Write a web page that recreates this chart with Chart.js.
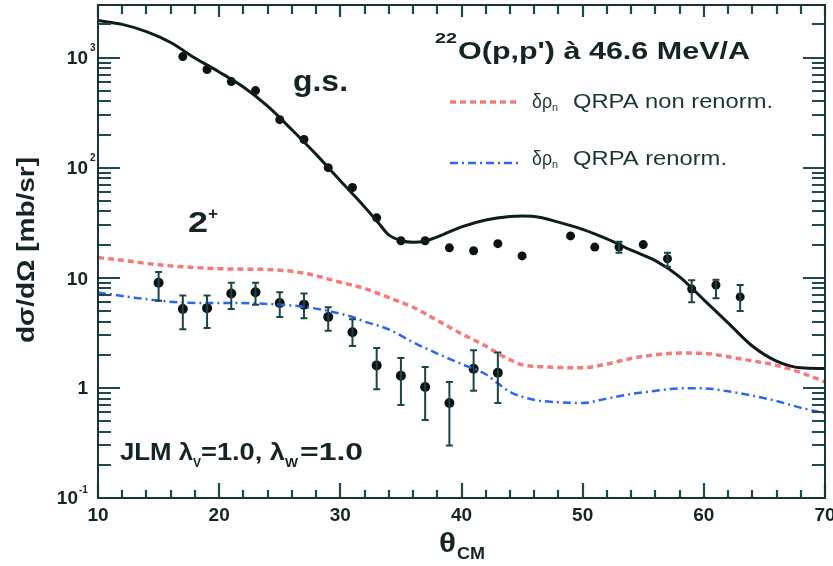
<!DOCTYPE html>
<html><head><meta charset="utf-8">
<script src="https://cdn.jsdelivr.net/npm/chart.js@4.4.0/dist/chart.umd.min.js"></script>
<style>html,body{margin:0;padding:0;background:#fff;}canvas{display:block}</style>
</head><body>
<canvas id="c" width="833" height="566"></canvas>
<script>
// ---------- data ----------
const gsAngles = [17,19,21,23,25,27,29,31,33,35,37,39,41,43,45,49,51,53,55,57,59,61,63];
const gsValues = [1020,778,605,501,273,180,100,66,35,21.7,21.7,18.7,17.6,20.4,15.8,24,19,19,20,14.9,7.9,8.6,6.7];
const gsErrLow  = [null,null,null,null,null,null,null,null,null,null,null,null,null,null,null,null,null,16.9,null,12.6,6.0,6.5,5.0];
const gsErrHigh = [null,null,null,null,null,null,null,null,null,null,null,null,null,null,null,null,null,21.2,null,16.9,9.5,9.6,8.6];

const exAngles  = [15,17,19,21,23,25,27,29,31,33,35,37,39,41,43];
const exValues  = [9.0,5.2,5.3,7.2,7.4,5.9,5.7,4.4,3.2,1.6,1.29,1.02,0.73,1.49,1.37];
const exErrLow  = [6.2,3.4,3.5,5.2,5.7,4.4,4.3,3.3,2.4,0.97,0.70,0.51,0.30,0.94,0.73];
const exErrHigh = [11.3,6.9,6.9,9.0,9.0,7.4,7.2,5.4,4.2,2.3,1.87,1.55,1.13,2.2,2.1];

const gsCurveAngles = [10,12,14,16,18,20,22,24,26,28,30,32,33,34,35,36,37,38,40,42,44,45,46,48,50,52,54,56,58,60,62,64,66,68,70];
const gsCurveValues = [2170,2000,1720,1370,990,740,540,362,221,132,76,44,33,24.5,21.8,21,21.5,23.5,29,33.5,36,36.3,36,32,27.5,22.5,17.8,14.3,10.2,6.3,3.9,2.4,1.75,1.52,1.5];

const redAngles = [10,12,15,18,21,24,27,30,32,34,36,38,40,42,43,44,45,47,50,52,54,56,58,60,62,64,66,68,70];
const redValues = [15.3,14.4,13.1,12.4,12.0,11.9,11.0,9.1,8.0,6.6,5.4,4.1,3.1,2.4,2.05,1.8,1.62,1.55,1.52,1.65,1.85,2.0,2.07,2.06,1.92,1.76,1.6,1.38,1.13];

const blueAngles = [10,13,15,17,19,21,23,25,27,29,31,32,34,36,38,40,42,43,44,46,48,50,52,54,56,58,60,62,64,66,68,70];
const blueValues = [7.35,6.6,6.2,5.95,5.9,5.9,5.85,5.7,5.45,5.0,4.4,4.0,3.4,2.6,2.05,1.65,1.33,1.1,0.92,0.78,0.74,0.73,0.8,0.88,0.94,0.99,0.99,0.93,0.85,0.76,0.66,0.59];

const xTickLabels = ['10','20','30','40','50','60','70'];
const yMajorTicks = [0.1,1,10,100,1000];

// ---------- helpers ----------
const FONT = '"Liberation Sans", Arial, Helvetica, sans-serif';
const INK = '#152525';
function pts(xs, ys){ return xs.map((x,i)=>({x:x, y:ys[i]})); }
function fitText(ctx, txt, x, y, font, w){
  ctx.save(); ctx.font = font; ctx.textAlign='left'; ctx.textBaseline='alphabetic';
  const m = ctx.measureText(txt).width;
  const sx = w ? w/m : 1;
  ctx.translate(x,y); ctx.scale(sx,1); ctx.fillText(txt,0,0); ctx.restore();
}
const RED_DASH = [6,4];
const BLUE_DASH = [8,4,2,4];

const errorBars = {
  id:'errorBars',
  afterDatasetsDraw(chart){
    const ctx = chart.ctx, xs = chart.scales.x, ys = chart.scales.y;
    ctx.save();
    ctx.strokeStyle = '#1d4545'; ctx.lineWidth = 2; ctx.setLineDash([]);
    function bars(ang, lo, hi){
      ang.forEach((a,i)=>{
        if(lo[i]==null) return;
        const px = xs.getPixelForValue(a);
        const y1 = ys.getPixelForValue(lo[i]), y2 = ys.getPixelForValue(hi[i]);
        ctx.beginPath();
        ctx.moveTo(px,y1); ctx.lineTo(px,y2);
        ctx.moveTo(px-3.5,y1); ctx.lineTo(px+3.5,y1);
        ctx.moveTo(px-3.5,y2); ctx.lineTo(px+3.5,y2);
        ctx.stroke();
      });
    }
    bars(gsAngles, gsErrLow, gsErrHigh);
    bars(exAngles, exErrLow, exErrHigh);
    ctx.restore();
  }
};

const decor = {
  id:'decor',
  afterDraw(chart){
    const ctx = chart.ctx, xs = chart.scales.x, ys = chart.scales.y, a = chart.chartArea;
    ctx.save();
    ctx.setLineDash([]);
    ctx.strokeStyle = '#1f4a4a';
    ctx.lineWidth = 2.2;
    for(let t=10;t<=70;t+=2){
      const px = Math.round(xs.getPixelForValue(t));
      const major = (t%10===0);
      ctx.beginPath();
      ctx.moveTo(px,a.bottom); ctx.lineTo(px,a.bottom-(major?15:8));
      ctx.moveTo(px,a.top); ctx.lineTo(px,a.top+(major?12:9));
      ctx.stroke();
    }
    for(let d=-1; d<=3; d++){
      for(let m=1;m<=9;m++){
        const v = m*Math.pow(10,d);
        if(v<0.1 || v>3000) continue;
        const py = Math.round(ys.getPixelForValue(v));
        const L = (m===1)?22:13;
        ctx.beginPath();
        ctx.moveTo(a.left,py); ctx.lineTo(a.left+L,py);
        ctx.moveTo(a.right,py); ctx.lineTo(a.right-L,py);
        ctx.stroke();
      }
    }
    ctx.strokeStyle = '#1a3434';
    ctx.lineWidth = 2;
    ctx.strokeRect(a.left, a.top, a.right-a.left, a.bottom-a.top);

    ctx.fillStyle = INK;
    ctx.font = 'bold 19px '+FONT; ctx.textAlign='center'; ctx.textBaseline='middle';
    xTickLabels.forEach(l=>{ ctx.fillText(l, xs.getPixelForValue(+l), a.bottom+18); });
    const supF = 'bold 10px '+FONT;
    yMajorTicks.forEach(v=>{
      const py = ys.getPixelForValue(v);
      ctx.font = 'bold 19px '+FONT; ctx.textAlign='right'; ctx.textBaseline='middle';
      if(v===1){ ctx.fillText('1', 88, py+1); }
      else if(v===10){ ctx.fillText('10', 88, py+2); }
      else if(v===0.1){
        ctx.fillText('10', 78, py+1);
        ctx.font = supF; ctx.textAlign='left'; ctx.fillText('-1', 79, py-8);
      } else {
        ctx.fillText('10', 88, py+1);
        ctx.font = supF; ctx.textAlign='left'; ctx.fillText(String(Math.round(Math.log10(v))), 90, py-9);
      }
    });
    ctx.save();
    ctx.translate(27, 250); ctx.rotate(-Math.PI/2);
    ctx.font = 'bold 24px '+FONT; ctx.textAlign='center'; ctx.textBaseline='middle';
    const yt = 'dσ/dΩ [mb/sr]';
    const sx = 186/ctx.measureText(yt).width;
    ctx.scale(sx,1); ctx.fillText(yt,0,0);
    ctx.restore();
    fitText(ctx, 'θ', 439, 552, 'bold 27px '+FONT, 17);
    fitText(ctx, 'CM', 457, 559, 'bold 16px '+FONT, 28);
    fitText(ctx, '22', 435, 43, 'bold 14px '+FONT, 22);
    fitText(ctx, "O(p,p') à 46.6 MeV/A", 458, 59, 'bold 24px '+FONT, 292);
    fitText(ctx, 'g.s.', 293, 91, 'bold 29px '+FONT, 55);
    fitText(ctx, '2', 188, 232, 'bold 30px '+FONT, 20);
    fitText(ctx, '+', 208, 219, 'bold 16px '+FONT, 10);
    fitText(ctx, 'JLM λ', 120, 460, 'bold 24px '+FONT, 73);
    fitText(ctx, 'V', 193, 467, 'bold 12px '+FONT, 8);
    fitText(ctx, '=1.0, λ', 201, 460, 'bold 24px '+FONT, 84);
    fitText(ctx, 'W', 285, 467, 'bold 12px '+FONT, 13);
    fitText(ctx, '=1.0', 300, 460, 'bold 24px '+FONT, 63);
    ctx.lineWidth = 3.5; ctx.strokeStyle = 'rgba(240,100,100,0.85)'; ctx.setLineDash(RED_DASH);
    ctx.beginPath(); ctx.moveTo(450,102); ctx.lineTo(520,102); ctx.stroke();
    ctx.lineWidth = 2.5; ctx.strokeStyle = '#2f66ee'; ctx.setLineDash(BLUE_DASH);
    ctx.beginPath(); ctx.moveTo(450,163); ctx.lineTo(520,163); ctx.stroke();
    ctx.setLineDash([]);
    ctx.fillStyle = '#1b3535';
    fitText(ctx, 'δρ', 532, 108, '20px '+FONT, 20);
    fitText(ctx, 'n', 552, 111, '11px '+FONT, 6);
    fitText(ctx, 'QRPA non renorm.', 573, 108, '20px '+FONT, 200);
    fitText(ctx, 'δρ', 532, 165, '20px '+FONT, 20);
    fitText(ctx, 'n', 552, 168, '11px '+FONT, 6);
    fitText(ctx, 'QRPA renorm.', 573, 165, '20px '+FONT, 154);
    ctx.restore();
  }
};

new Chart(document.getElementById('c'), {
  type:'scatter',
  data:{ datasets:[
    { data: pts(redAngles, redValues), showLine:true, pointRadius:0, borderColor:'rgba(240,100,100,0.85)', borderWidth:3.5, borderDash:RED_DASH, cubicInterpolationMode:'monotone' },
    { data: pts(blueAngles, blueValues), showLine:true, pointRadius:0, borderColor:'#2f66ee', borderWidth:2.5, borderDash:BLUE_DASH, cubicInterpolationMode:'monotone' },
    { data: pts(gsCurveAngles, gsCurveValues), showLine:true, pointRadius:0, borderColor:'#0e1c1c', borderWidth:3, cubicInterpolationMode:'monotone' },
    { data: pts(gsAngles, gsValues), showLine:false, pointRadius:4.5, backgroundColor:'#0a1212', borderColor:'#0a1212', borderWidth:0 },
    { data: pts(exAngles, exValues), showLine:false, pointRadius:5, backgroundColor:'#0a1212', borderColor:'#0a1212', borderWidth:0 }
  ]},
  options:{
    responsive:false, animation:false, devicePixelRatio:1,
    layout:{ padding:{ left:98, right:8, top:4, bottom:68 } },
    plugins:{ legend:{display:false}, tooltip:{enabled:false} },
    scales:{
      x:{ type:'linear', min:10, max:70, display:false },
      y:{ type:'logarithmic', min:0.1, max:3000, display:false }
    }
  },
  plugins:[errorBars, decor]
});
</script>
</body></html>
